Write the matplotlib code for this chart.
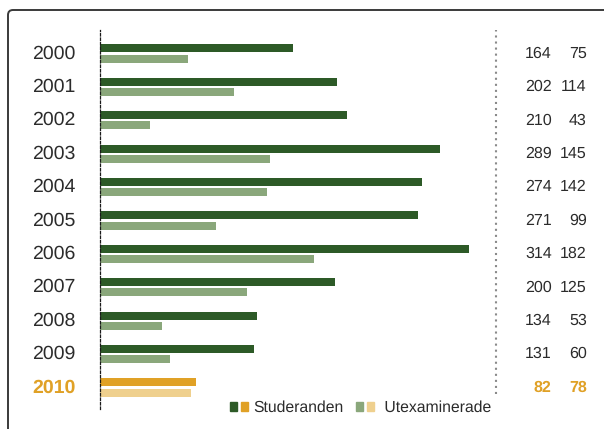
import matplotlib.pyplot as plt
import matplotlib.transforms as mtransforms
from matplotlib.patches import FancyBboxPatch, Patch
from matplotlib.legend_handler import HandlerTuple
import numpy as np

plt.rcParams["font.family"] = ["Liberation Sans", "DejaVu Sans"]
plt.rcParams["text.hinting"] = "no_hinting"

years = ["2000", "2001", "2002", "2003", "2004", "2005",
         "2006", "2007", "2008", "2009", "2010"]
studeranden = [164, 202, 210, 289, 274, 271, 314, 200, 134, 131, 82]
utexaminerade = [75, 114, 43, 145, 142, 99, 182, 125, 53, 60, 78]

DARK = "#2d5a27"
LIGHT = "#8aa77b"
ORANGE = "#e0a126"
LORANGE = "#efd08e"
TEXT = "#2b2b2b"

W, H = 604, 429
fig = plt.figure(figsize=(W / 100, H / 100), dpi=100)

# frame around the chart (only top + left edges are visible)
frame = FancyBboxPatch((8, -30), 700, H - 10 + 30,
                       boxstyle="round,pad=0,rounding_size=5",
                       transform=mtransforms.IdentityTransform(),
                       fc="none", ec="#3a3a3a", lw=1.4)
fig.add_artist(frame)

# axes geometry in pixels
x0, x1 = 99.7, 496.0
ytop, ybot = 30.0, 409.0
row0, rowstep = 53.5, 33.4
px_per_unit = 1.176

ax = fig.add_axes([x0 / W, (H - ybot) / H, (x1 - x0) / W, (ybot - ytop) / H])
ax.set_xlim(0, (x1 - x0) / px_per_unit)
ax.set_ylim((ybot - row0) / rowstep, (ytop - row0) / rowstep)

rows = np.arange(len(years))
last = len(years) - 1
c_stud = [ORANGE if i == last else DARK for i in rows]
c_utex = [LORANGE if i == last else LIGHT for i in rows]

ax.barh(rows - 0.15, studeranden, height=0.24, color=c_stud)
ax.barh(rows + 0.15, utexaminerade, height=0.24, color=c_utex)

for s in ["top", "right", "bottom"]:
    ax.spines[s].set_visible(False)
ax.spines["left"].set_linestyle((0, (2.0, 1.6)))
ax.spines["left"].set_color("#1a1a1a")
ax.spines["left"].set_linewidth(0.9)
ax.axvline(ax.get_xlim()[1], ymin=(ybot - 394) / (ybot - ytop), ymax=1,
           color="#8a8a8a", lw=1.5, ls=(0, (1.0, 1.9)), clip_on=False)
ax.set_xticks([])
ax.set_yticks([])
ax.patch.set_alpha(0)

tr = mtransforms.blended_transform_factory(fig.transFigure, ax.transData)
for i, (y, s, u) in enumerate(zip(years, studeranden, utexaminerade)):
    is_last = i == last
    col = ORANGE if is_last else TEXT
    wt = "bold" if is_last else "normal"
    ax.text(32 / W, i, y, transform=tr, ha="left", va="center",
            fontsize=14, color=col, fontweight=wt)
    ax.text(551.7 / W, i, str(s), transform=tr, ha="right", va="center",
            fontsize=11.5, color=col, fontweight=wt)
    ax.text(586.7 / W, i, str(u), transform=tr, ha="right", va="center",
            fontsize=11.5, color=col, fontweight=wt)

handles = [(Patch(color=DARK), Patch(color=ORANGE)),
           (Patch(color=LIGHT), Patch(color=LORANGE))]
fig.legend(handles, ["Studeranden", " Utexaminerade"],
           handler_map={tuple: HandlerTuple(ndivide=None, pad=0.25)},
           loc="center left", bbox_to_anchor=(230 / W, (H - 408) / H),
           ncol=2, frameon=False, borderpad=0, borderaxespad=0,
           handlelength=1.15, handleheight=0.5, handletextpad=0.35,
           columnspacing=0.8, fontsize=11.3, labelcolor=TEXT)

fig.savefig("out.png", dpi=100, facecolor="white")
